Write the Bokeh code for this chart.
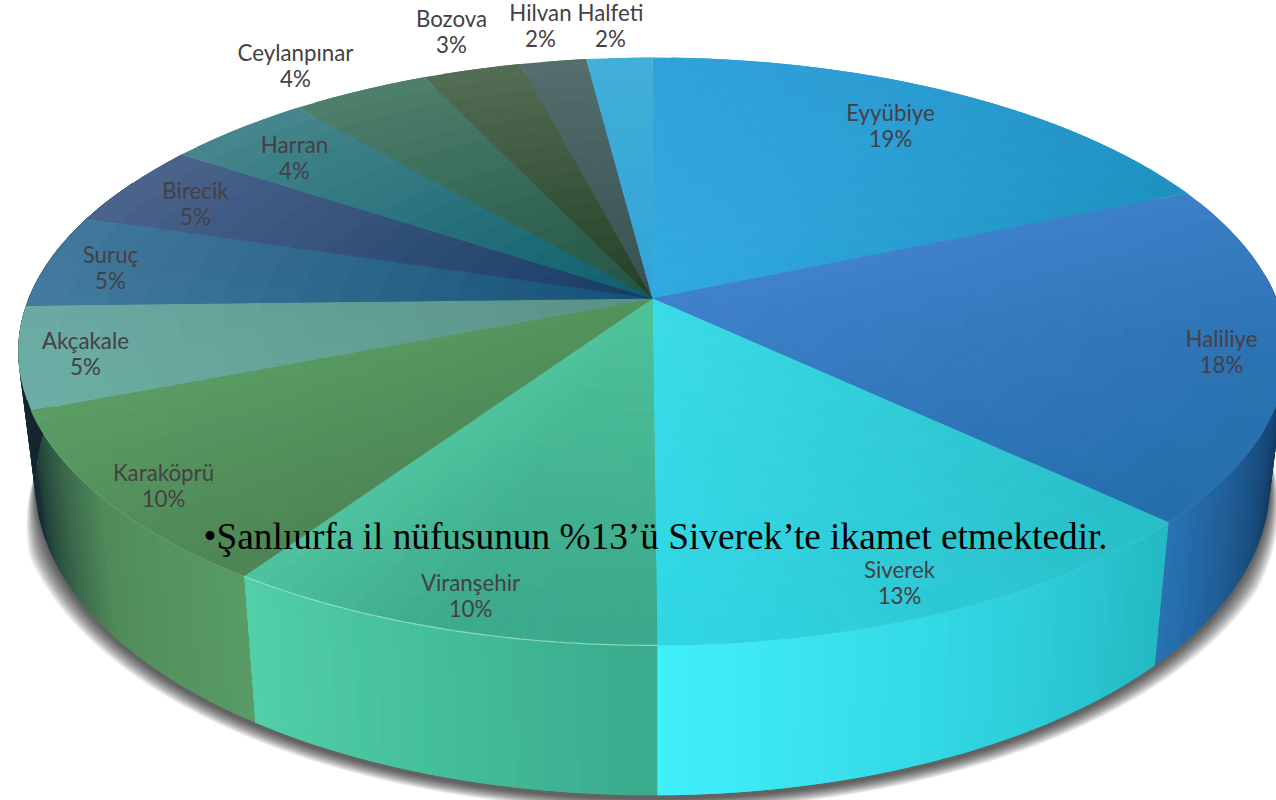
from bokeh.plotting import figure
from bokeh.embed import file_html
from bokeh.resources import INLINE
from bokeh.models import Range1d
from bokeh.core.properties import value
import numpy as np

# ---------- data ----------
districts = ["Eyyübiye", "Haliliye", "Siverek", "Viranşehir", "Karaköprü", "Akçakale",
             "Suruç", "Birecik", "Harran", "Ceylanpınar", "Bozova", "Hilvan", "Halfeti"]
percent_labels = [19, 18, 13, 10, 10, 5, 5, 5, 4, 4, 3, 2, 2]
# arc sizes as measured on the drawn pie (labels are rounded)
arc_shares = [18.5, 18.6, 12.8, 9.5, 9.6, 5.6, 5.2, 4.6, 4.4, 4.2, 3.0, 2.0, 2.0]
caption = "•Şanlıurfa il nüfusunun %13’ü Siverek’te ikamet etmektedir."

# ---------- styles ----------
# top face: colour at apex, then on the rim at slice start / middle / end
top_colors = [
    ((50, 170, 225), (48, 162, 218), (42, 155, 208), (28, 145, 190)),
    ((66, 130, 205), (60, 128, 200), (42, 115, 178), (35, 110, 170)),
    ((60, 220, 232), (38, 188, 198), (44, 200, 212), (48, 215, 228)),
    ((80, 195, 155), (58, 168, 138), (60, 170, 140), (78, 195, 160)),
    ((82, 148, 92), (76, 132, 84), (84, 145, 92), (92, 158, 102)),
    ((90, 145, 135), (108, 175, 165), (108, 173, 165), (106, 170, 162)),
    ((22, 82, 118), (68, 125, 160), (66, 122, 157), (65, 120, 155)),
    ((25, 60, 100), (75, 100, 140), (75, 100, 140), (75, 100, 140)),
    ((15, 95, 110), (70, 135, 140), (70, 135, 140), (70, 135, 140)),
    ((35, 85, 70), (78, 128, 108), (78, 128, 108), (78, 128, 108)),
    ((35, 65, 40), (85, 110, 85), (85, 110, 85), (85, 110, 85)),
    ((55, 80, 80), (85, 110, 110), (85, 110, 110), (85, 110, 110)),
    ((50, 165, 215), (65, 175, 215), (65, 175, 215), (65, 175, 215)),
]
# side wall: colour at slice start / middle / end
side_colors = [
    ((5, 20, 40), (5, 20, 40), (5, 20, 40)),
    ((5, 20, 40), (12, 45, 80), (40, 115, 180)),
    ((35, 185, 195), (50, 215, 228), (65, 240, 250)),
    ((58, 170, 140), (68, 190, 155), (82, 207, 168)),
    ((88, 155, 100), (80, 140, 90), (30, 60, 55)),
    ((25, 50, 55), (20, 40, 50), (20, 35, 45)),
    ((20, 35, 45), (20, 35, 45), (20, 35, 45)),
    ((20, 35, 45), (20, 35, 45), (20, 35, 45)),
    ((20, 35, 45), (20, 35, 45), (20, 35, 45)),
    ((20, 35, 45), (20, 35, 45), (20, 35, 45)),
    ((20, 35, 45), (20, 35, 45), (20, 35, 45)),
    ((20, 35, 45), (20, 35, 45), (20, 35, 45)),
    ((20, 35, 45), (20, 35, 45), (20, 35, 45)),
]
rim_highlight = [None, ("#3f86c8", 0.4), ("#46dbe2", 0.4), ("#a8f0d4", 0.7), ("#6cab78", 0.6),
                 None, None, None, None, None, None, None, None]

# label anchors (name line, percent line) in reference pixels
label_x = [890, 1221, 899, 470, 163, 85, 110, 195, 294, 295, 451, 540, 610]
label_y = [112, 338, 569, 582, 472, 340, 254, 190, 144, 52, 18, 12, 12]
label_gap = 26

# ---------- projection of the tilted disc ----------
APEX_X, APEX_Y = 652.0, 298.0
AX, BY, K = 624.0, 284.4, 0.18


def top_xy(theta, r=1.0):
    u, v = r * np.sin(theta), r * np.cos(theta)
    den = 1 + K * v
    return APEX_X + AX * u / den, APEX_Y - BY * v / den


def bottom_xy(theta, grow_x=0.0, grow_y=0.0):
    x, y = top_xy(theta)
    v = np.cos(theta)
    xb = 656 + 0.973 * (x - 656)
    yb = y + 128 + 22 * (-v)
    return xb + grow_x * np.sin(theta), yb - grow_y * v


def mix(a, b, t):
    return tuple(a[i] + (b[i] - a[i]) * t for i in range(3))


def three(c0, c1, c2, t):
    return mix(c0, c1, t * 2) if t < 0.5 else mix(c1, c2, t * 2 - 1)


def hexc(c):
    return "#%02x%02x%02x" % tuple(int(round(min(255, max(0, q)))) for q in c)


p = figure(width=1276, height=800, output_backend="svg", toolbar_location=None,
           x_range=Range1d(0, 1276), y_range=Range1d(800, 0),
           min_border=0, outline_line_color=None, background_fill_color="white",
           border_fill_color="white")
p.axis.visible = False
p.grid.visible = False

total = float(sum(arc_shares))
edges = np.cumsum([0.0] + arc_shares) / total * 2 * np.pi

# shadow under the disc
TH0, TH1 = np.radians(92), np.radians(262)
th = np.linspace(TH0, TH1, 220)
taper = np.clip((th - TH0) / 0.45, 0, 1) * np.clip((TH1 - th) / 0.25, 0, 1)
for e in np.linspace(1, 0.08, 14):
    sx, sy = bottom_xy(th, grow_x=22 * e * taper, grow_y=(3 + 12 * e) * taper)
    p.patch(list(sx), list(sy), fill_color="black", fill_alpha=0.062, line_color=None)

# side wall: every strip runs under the next one, so no seam shows
side_x, side_y, side_c = [], [], []
VIS0, VIS1 = np.radians(85), np.radians(296)
for i in range(len(arc_shares)):
    a, b = edges[i], edges[i + 1]
    lo, hi = max(a, VIS0), min(b, VIS1)
    if hi <= lo:
        continue
    n = max(2, int(np.degrees(hi - lo) / 1.0))
    g = np.linspace(lo, hi, n + 1)
    for j in range(n):
        t0, t1 = g[j], g[min(j + 2, n)]
        xa, ya = top_xy(t0)
        xb, yb = top_xy(t1)
        xc, yc = bottom_xy(t1)
        xd, yd = bottom_xy(t0)
        side_x.append([xa, xb, xc, xd])
        side_y.append([ya, yb, yc, yd])
        side_c.append(hexc(three(*side_colors[i], ((g[j] + g[j + 1]) / 2 - a) / (b - a))))
p.patches(side_x, side_y, fill_color=side_c, line_color=None)

# top face, small overlapping cells carry the shading
cell_x, cell_y, cell_c = [], [], []
RAD = 16
for i in range(len(arc_shares)):
    a, b = edges[i], edges[i + 1]
    n = max(3, int(np.degrees(b - a) / 2.0))
    g = np.linspace(a, b, n + 1)
    apex, c_s, c_m, c_e = top_colors[i]
    for j in range(n):
        t0, t1 = g[j], g[min(j + 2, n)]
        rim = three(c_s, c_m, c_e, (j + 0.5) / n)
        # outer rings first; each ring reaches one ring inward, under the next
        for k in range(RAD - 1, -1, -1):
            r0, r1 = max(k - 1, 0) / RAD, (k + 1) / RAD
            x00, y00 = top_xy(t0, r0)
            x01, y01 = top_xy(t1, r0)
            x11, y11 = top_xy(t1, r1)
            x10, y10 = top_xy(t0, r1)
            cell_x.append([x00, x01, x11, x10])
            cell_y.append([y00, y01, y11, y10])
            cell_c.append(hexc(mix(apex, rim, (k + 0.5) / RAD)))
p.patches(cell_x, cell_y, fill_color=cell_c, line_color=None)

# light rim along the visible front edge
for i, hl in enumerate(rim_highlight):
    if hl is None:
        continue
    lo, hi = max(edges[i], np.radians(100)), edges[i + 1]
    g = np.linspace(lo, hi, 60)
    rx, ry = top_xy(g)
    p.line(list(rx), list(ry), line_color=hl[0], line_width=1.2, line_alpha=hl[1])

# labels
LABEL_FONT = value("Lato")
p.text(label_x, label_y, text=districts, text_font=LABEL_FONT, text_font_size="22.3px",
       text_color="#454045", text_align="center", text_baseline="middle")
p.text(label_x, [y + label_gap for y in label_y], text=["%d%%" % v for v in percent_labels],
       text_font=LABEL_FONT, text_font_size="22.3px",
       text_color="#454045", text_align="center", text_baseline="middle")

# caption
p.text([203], [536], text=[caption], text_font=value("Liberation Serif"),
       text_font_size="37.3px", text_color="black",
       text_align="left", text_baseline="alphabetic")

open("out.html", "w").write(file_html(p, INLINE))
